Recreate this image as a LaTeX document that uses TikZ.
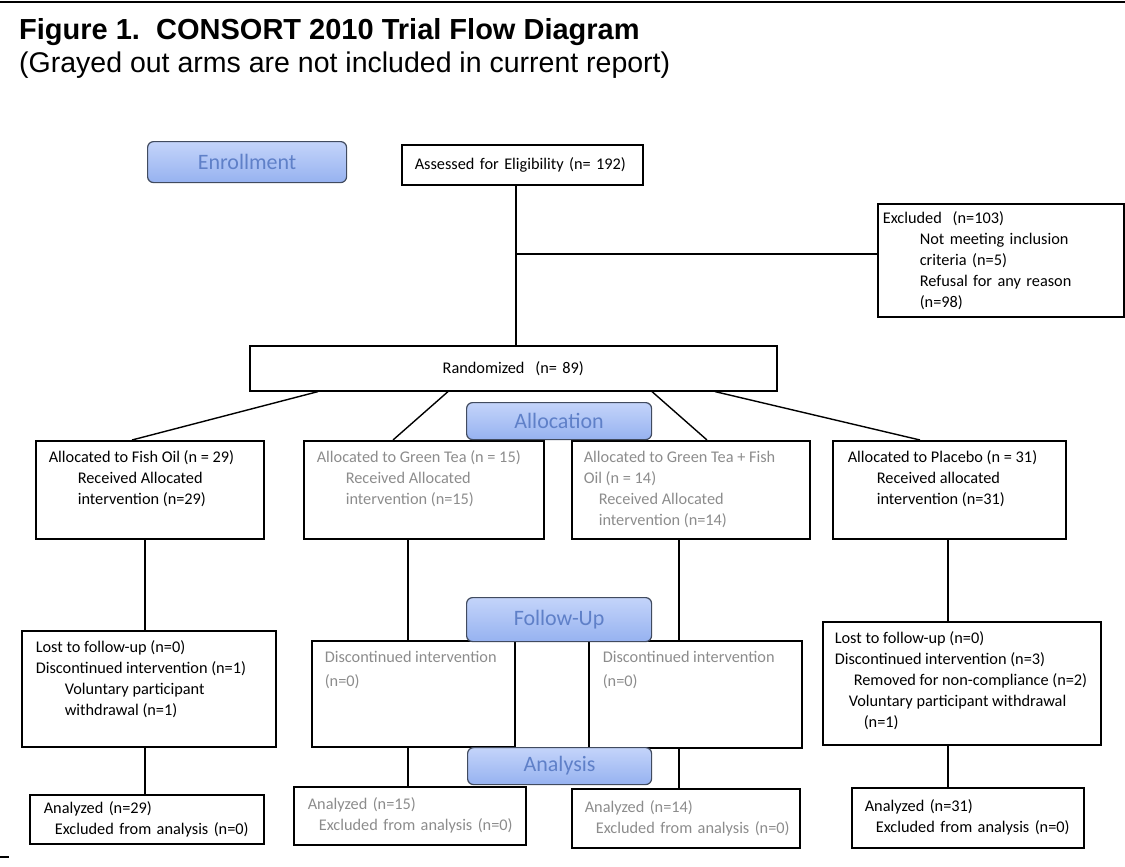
\documentclass[tikz,border=0pt]{standalone}
\usepackage{fontspec}
\setmainfont{Carlito}
\newfontfamily\headfont{Liberation Sans}
\usepackage{tikz}
\usepackage{xcolor}
\definecolor{grayarm}{RGB}{140,140,140}
\definecolor{stagetext}{RGB}{95,128,200}
\definecolor{stagetop}{RGB}{196,212,250}
\definecolor{stagebot}{RGB}{150,178,240}
\definecolor{stageline}{RGB}{65,75,95}
\tikzset{
    flow-box/.style = {draw=black, line width=1.6pt, rectangle, anchor=north west, inner sep=0pt, font=\fontsize{16.3}{21}\selectfont},
    stage-box/.style = {draw=stageline, line width=1.2pt, rounded corners=6pt, top color=stagetop, bottom color=stagebot, anchor=north west, inner sep=0pt, text=stagetext, font=\fontsize{22}{26}\selectfont},
    gray-arm/.style = {text=grayarm},
    link/.style = {draw=black, line width=1.4pt},
}

\begin{document}
\begin{tikzpicture}[x=1pt, y=-1pt]
\useasboundingbox (0,0) rectangle (1125,867);
\draw[line width=2.5pt] (0,2) -- (1125,2);
\draw[line width=2pt] (0,857) -- (9,857);

\node[anchor=base west, inner sep=0pt, font=\headfont\bfseries\fontsize{29}{33}\selectfont] (title) at (19,40) {Figure 1.~~CONSORT 2010 Trial Flow Diagram};
\node[anchor=base west, inner sep=0pt, font=\headfont\fontsize{28.5}{33}\selectfont] (subtitle) at (19,73) {(Grayed out arms are not included in current report)};

% enrollment
\node[flow-box, inner xsep=13pt, text width=215pt, minimum height=40pt, align=left] (assess) at (401,144) {Assessed for Eligibility (n= 192)};
\node[flow-box, inner xsep=5pt, text width=236pt, minimum height=113pt, align=left] (excl) at (877,203) {Excluded~~(n=103)\\
    \hspace*{37pt}Not meeting inclusion\\
    \hspace*{37pt}criteria (n=5)\\
    \hspace*{37pt}Refusal for any reason\\
    \hspace*{37pt}(n=98)};
\node[flow-box, inner xsep=13pt, text width=501pt, minimum height=45pt, align=center] (rand) at (249,345) {Randomized~~(n= 89)};

% allocation
\node[flow-box, inner xsep=13pt, inner ysep=10pt] (allocFO) at (35,440) {\begin{minipage}[t][78pt][t]{202pt}
    Allocated to Fish Oil (n = 29)\\
    \hspace*{29pt}Received Allocated\\
    \hspace*{29pt}intervention (n=29)
\end{minipage}};
\node[flow-box, gray-arm, inner xsep=13pt, inner ysep=10pt] (allocGT) at (303,440) {\begin{minipage}[t][78pt][t]{214pt}
    Allocated to Green Tea (n = 15)\\
    \hspace*{29pt}Received Allocated\\
    \hspace*{29pt}intervention (n=15)
\end{minipage}};
\node[flow-box, gray-arm, inner xsep=12pt, inner ysep=10pt] (allocGTFO) at (571,440) {\begin{minipage}[t][78pt][t]{214pt}
    Allocated to Green Tea + Fish\\
    Oil (n = 14)\\
    \hspace*{15pt}Received Allocated\\
    \hspace*{15pt}intervention (n=14)
\end{minipage}};
\node[flow-box, inner xsep=15pt, inner ysep=10pt] (allocPL) at (832,440) {\begin{minipage}[t][78pt][t]{203pt}
    Allocated to Placebo (n = 31)\\
    \hspace*{29pt}Received allocated\\
    \hspace*{29pt}intervention (n=31)
\end{minipage}};

% follow-up
\node[flow-box, inner xsep=14pt, inner ysep=10pt] (followFO) at (21,630) {\begin{minipage}[t][96pt][t]{226pt}
    Lost to follow-up (n=0)\\
    Discontinued intervention (n=1)\\
    \hspace*{29pt}Voluntary participant\\
    \hspace*{29pt}withdrawal (n=1)
\end{minipage}};
\node[flow-box, gray-arm, inner xsep=13pt, inner ysep=10pt] (followGT) at (311,640) {\begin{minipage}[t][86pt][t]{177pt}
    Discontinued intervention\\[3pt]
    (n=0)
\end{minipage}};
\node[flow-box, gray-arm, inner xsep=14pt, inner ysep=10pt] (followGTFO) at (588,640) {\begin{minipage}[t][87pt][t]{185pt}
    Discontinued intervention\\[3pt]
    (n=0)
\end{minipage}};
\node[flow-box, inner xsep=12pt, inner ysep=10pt] (followPL) at (822,621) {\begin{minipage}[t][103pt][t]{254pt}
    Lost to follow-up (n=0)\\
    Discontinued intervention (n=3)\\
    \hspace*{19pt}\mbox{Removed for non-compliance (n=2)}\\
    \hspace*{14pt}Voluntary participant withdrawal\\
    \hspace*{29pt}(n=1)
\end{minipage}};

% analysis
\node[flow-box, inner xsep=14pt, text width=206pt, minimum height=49pt, align=left] (analysisFO) at (29,794) {Analyzed (n=29)\\
    \hspace*{11pt}\mbox{Excluded from analysis (n=0)}};
\node[flow-box, gray-arm, inner xsep=14pt, text width=204pt, minimum height=58pt, align=left] (analysisGT) at (293,786) {Analyzed (n=15)\\
    \hspace*{11pt}\mbox{Excluded from analysis (n=0)}};
\node[flow-box, gray-arm, inner xsep=13pt, text width=202pt, minimum height=59pt, align=left] (analysisGTFO) at (571,788) {Analyzed (n=14)\\
    \hspace*{11pt}\mbox{Excluded from analysis (n=0)}};
\node[flow-box, inner xsep=13pt, text width=206pt, minimum height=60pt, align=left] (analysisPL) at (851,787) {Analyzed (n=31)\\
    \hspace*{11pt}\mbox{Excluded from analysis (n=0)}};

% connectors
\coordinate (trunk) at (516,0);
\coordinate (colFO) at (145,0);
\coordinate (colGT) at (408,0);
\coordinate (colGTFO) at (679,0);
\coordinate (colPL) at (948,0);
\draw[link] (assess.south -| trunk) -- (rand.north -| trunk);
\draw[link] ([yshift=6.5pt]excl.west -| trunk) -- ([yshift=6.5pt]excl.west);
\draw[link] ([xshift=69pt]rand.south west) -- ([xshift=97pt]allocFO.north west);
\draw[link] ([xshift=199pt]rand.south west) -- ([xshift=90pt]allocGT.north west);
\draw[link] ([xshift=403pt]rand.south west) -- ([xshift=136pt]allocGTFO.north west);
\draw[link] ([xshift=466pt]rand.south west) -- ([xshift=88pt]allocPL.north west);
\draw[link] (allocFO.south -| colFO) -- (followFO.north -| colFO);
\draw[link] (allocGT.south -| colGT) -- (followGT.north -| colGT);
\draw[link] (allocGTFO.south -| colGTFO) -- (followGTFO.north -| colGTFO);
\draw[link] (allocPL.south -| colPL) -- (followPL.north -| colPL);
\draw[link] (followFO.south -| colFO) -- (analysisFO.north -| colFO);
\draw[link] (followGT.south -| colGT) -- (analysisGT.north -| colGT);
\draw[link] (followGTFO.south -| colGTFO) -- (analysisGTFO.north -| colGTFO);
\draw[link] (followPL.south -| colPL) -- (analysisPL.north -| colPL);

% stage labels
\node[stage-box, minimum width=199pt, minimum height=41pt] (enroll) at (147,141) {Enrollment};
\node[stage-box, minimum width=185pt, minimum height=37pt] (allocation) at (466,402) {Allocation};
\node[stage-box, minimum width=185pt, minimum height=44pt] (followup) at (466,597) {Follow-Up};
\node[stage-box, minimum width=184pt, minimum height=37pt] (analysis) at (467,747) {Analysis};
\end{tikzpicture}
\end{document}
